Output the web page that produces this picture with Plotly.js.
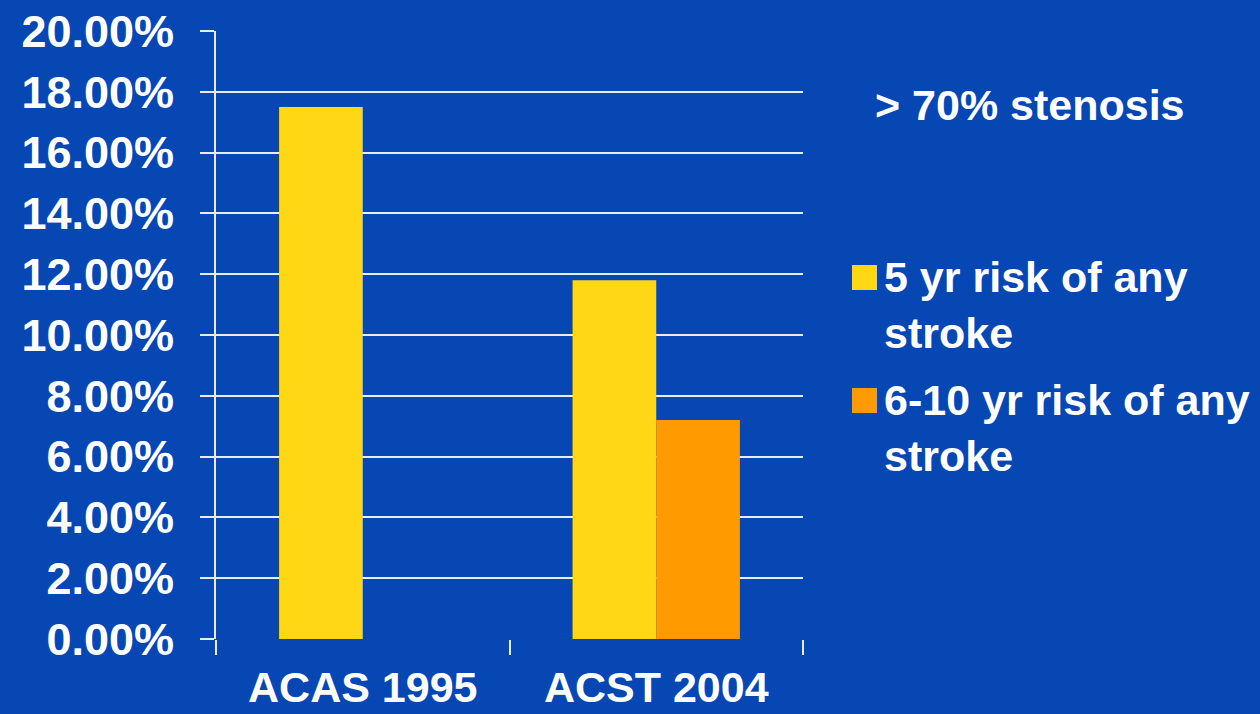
<!DOCTYPE html>
<html>
<head>
<meta charset="utf-8">
<script src="https://cdn.plot.ly/plotly-3.0.1.min.js"></script>
<style>html,body{margin:0;padding:0;background:#0747b4;}#chart{width:1260px;height:714px;}</style>
</head>
<body>
<div id="chart"></div>
<script>
const categories = ["ACAS 1995", "ACST 2004"];
const risk5yr = [17.5, 11.8];
const risk6to10yr = [null, 7.2];
const seriesNames = ["5 yr risk of any<br>stroke", "6-10 yr risk of any<br>stroke"];
const chartTitle = "> 70% stenosis";
const yTicks = [0, 2, 4, 6, 8, 10, 12, 14, 16, 18, 20];

const BG = "#0747b4";
const YELLOW = "#ffd714";
const ORANGE = "#ff9a00";
const FONT = "Liberation Sans, Arial, sans-serif";

const L = 216, R = 803, T = 31, B = 639;
const px = x => (x - L) / (R - L);
const py = y => (B - y) / (B - T);

const traces = [
  {type: "bar", x: categories, y: risk5yr, name: seriesNames[0], marker: {color: YELLOW}},
  {type: "bar", x: categories, y: risk6to10yr, name: seriesNames[1], marker: {color: ORANGE}}
];

const layout = {
  width: 1260, height: 714,
  paper_bgcolor: BG, plot_bgcolor: BG,
  margin: {l: L, r: 1260 - R, t: T, b: 714 - B, pad: 0},
  barmode: "group", bargap: 0.43, bargroupgap: 0,
  showlegend: false,
  font: {family: FONT, color: "#ffffff", size: 44, weight: 700},
  xaxis: {
    type: "category", tickson: "boundaries", ticks: "outside", ticklen: 15, tickwidth: 2,
    tickcolor: "#e8ecf6", showgrid: false, showline: false, zeroline: false,
    ticklabelstandoff: 19,
    tickfont: {family: FONT, size: 43, color: "#ffffff", weight: 700}
  },
  yaxis: {
    range: [0, 20], tickvals: yTicks, ticktext: yTicks.map(v => v.toFixed(2) + "%"),
    ticks: "outside", ticklen: 14, tickwidth: 2, tickcolor: "#e8ecf6",
    showgrid: true, gridcolor: "#e8ecf6", gridwidth: 2,
    showline: true, linecolor: "#e8ecf6", linewidth: 2, zeroline: false,
    ticklabelstandoff: 17,
    tickfont: {family: FONT, size: 45, color: "#ffffff", weight: 700}
  },
  shapes: [
    {type: "rect", xref: "paper", yref: "paper", x0: px(852), x1: px(877), y0: py(290), y1: py(265),
     fillcolor: YELLOW, line: {width: 0}},
    {type: "rect", xref: "paper", yref: "paper", x0: px(852), x1: px(877), y0: py(413), y1: py(388),
     fillcolor: ORANGE, line: {width: 0}}
  ],
  annotations: [
    {xref: "paper", yref: "paper", x: px(873), y: py(105), xanchor: "left", yanchor: "middle",
     text: chartTitle, showarrow: false, align: "left", font: {family: FONT, size: 43, color: "#ffffff", weight: 700}},
    {xref: "paper", yref: "paper", x: px(882), y: py(305), xanchor: "left", yanchor: "middle",
     text: seriesNames[0], showarrow: false, align: "left", font: {family: FONT, size: 43, color: "#ffffff", weight: 700}},
    {xref: "paper", yref: "paper", x: px(882), y: py(428), xanchor: "left", yanchor: "middle",
     text: seriesNames[1], showarrow: false, align: "left", font: {family: FONT, size: 43, color: "#ffffff", weight: 700}}
  ]
};

Plotly.newPlot("chart", traces, layout, {displayModeBar: false, staticPlot: true});
</script>
</body>
</html>
